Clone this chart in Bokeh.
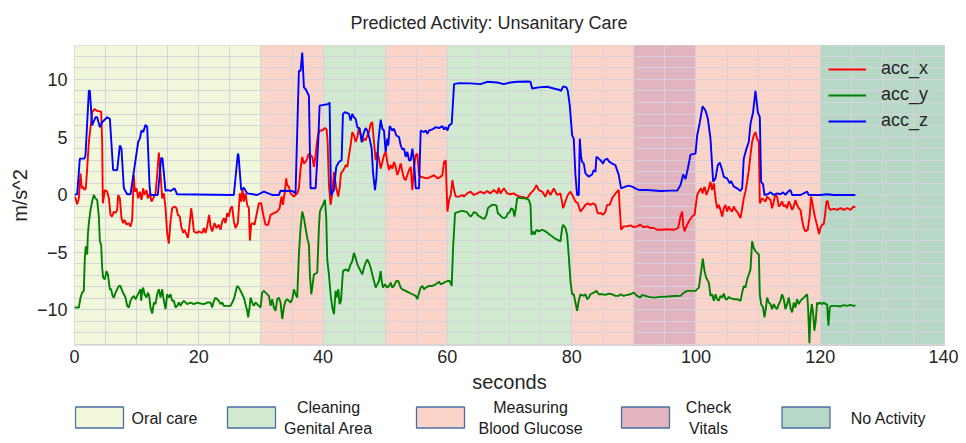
from bokeh.plotting import figure
from bokeh.models import Range1d, FixedTicker, SingleIntervalTicker, Legend, LegendItem
from bokeh.layouts import column
from bokeh.embed import file_html
from bokeh.resources import INLINE
from bokeh.core.properties import value

# ---------------- data ----------------
band_start = [0, 30, 40, 50, 60, 80, 90, 100, 120]
band_end = [30, 40, 50, 60, 80, 90, 100, 120, 140]
band_activity = ["Oral care", "Measuring Blood Glucose", "Cleaning Genital Area",
                 "Measuring Blood Glucose", "Cleaning Genital Area", "Measuring Blood Glucose",
                 "Check Vitals", "Measuring Blood Glucose", "No Activity"]

activities = ["Oral care", "Cleaning Genital Area", "Measuring Blood Glucose", "Check Vitals", "No Activity"]
activity_labels = ["Oral care", "Cleaning\nGenital Area", "Measuring\nBlood Glucose", "Check\nVitals", "No Activity"]
activity_colors = ["#f1f7da", "#d2e9d1", "#fad4c8", "#e2b4bf", "#b7d7c7"]

x_ticks = [0, 20, 40, 60, 80, 100, 120, 140]
y_ticks = [-10, -5, 0, 5, 10]

acc_x = [
    (0.00, -0.17), (0.16, -0.32), (0.43, -0.83), (0.70, -0.32), (0.97, 1.84), (1.18, 0.55), (1.39, 0.69),
    (1.61, 0.40), (1.82, 0.55), (2.04, 2.27), (2.31, 4.57), (2.58, 5.86), (2.84, 7.16), (3.22, 7.44),
    (3.54, 7.30), (3.92, 7.24), (4.29, 7.21), (4.45, 4.57), (4.56, -0.75), (4.88, 0.40), (5.26, 0.26),
    (5.53, -0.32), (5.79, -1.75), (6.06, -1.90), (6.33, -1.47), (6.60, -1.61), (6.87, -1.32), (7.03, -0.03),
    (7.30, -0.32), (7.56, -2.04), (7.83, -2.47), (8.05, -2.18), (8.37, -2.61), (8.69, -2.47), (9.01, -2.76),
    (9.28, -2.18), (9.55, 1.70), (9.71, 0.26), (9.98, 0.55), (10.25, -0.32), (10.52, 0.26), (10.78, -0.46),
    (11.05, 0.55), (11.27, -0.03), (11.59, 0.40), (11.80, -0.32), (12.12, 0.11), (12.39, -0.60),
    (12.66, -0.32), (13.04, 0.11), (13.30, 1.70), (13.57, 3.65), (13.84, 1.84), (14.11, -0.32),
    (14.38, 0.11), (14.65, -1.18), (14.91, -3.33), (15.18, -4.25), (15.45, -2.33), (15.72, -1.18),
    (16.10, -1.03), (16.42, -1.18), (16.63, -1.75), (16.95, -1.90), (17.17, -2.76), (17.49, -3.33),
    (17.70, -3.05), (18.03, -3.48), (18.24, -3.76), (18.46, -2.90), (18.78, -1.18), (18.99, -2.04),
    (19.21, -3.19), (19.64, -3.33), (20.01, -3.19), (20.55, -3.33), (20.82, -2.90), (21.08, -3.33),
    (21.35, -2.76), (21.67, -1.75), (21.89, -2.76), (22.16, -3.19), (22.53, -2.47), (22.85, -2.90),
    (23.23, -2.61), (23.50, -3.05), (23.77, -2.33), (24.04, -2.04), (24.30, -2.47), (24.57, -1.61),
    (24.84, -1.90), (25.11, -1.18), (25.38, -1.03), (25.64, -2.33), (25.91, -2.90), (26.29, -2.47),
    (26.61, 0.11), (26.82, -0.60), (27.04, 0.55), (27.25, -0.60), (27.52, 0.11), (27.79, -0.89),
    (28.06, -1.18), (28.22, -3.99), (28.43, -2.61), (28.65, -2.47), (28.97, -2.61), (29.29, -1.75),
    (29.67, -0.75), (30.04, -0.75), (30.37, -1.75), (30.74, -2.61), (31.17, -2.61), (31.55, -1.75),
    (32.08, -1.61), (32.62, -1.47), (33.00, -1.18), (33.32, -0.17), (33.53, -0.89), (33.85, 0.26),
    (34.07, 1.41), (34.23, 0.83), (34.50, 0.69), (34.77, 0.11), (35.04, -0.03), (35.30, -0.17),
    (35.57, -0.03), (35.84, 0.11), (36.11, 0.55), (36.38, 2.27), (36.65, 3.28), (36.92, 2.70),
    (37.18, 2.84), (37.45, 3.13), (37.72, 3.56), (37.99, 3.42), (38.26, 3.28), (38.53, 2.41),
    (38.80, 3.42), (38.96, 4.28), (39.17, 5.14), (39.44, 5.57), (39.87, 5.57), (40.30, 5.78),
    (40.57, 5.66), (40.73, 4.57), (40.94, 0.83), (41.21, -0.89), (41.48, 0.11), (41.75, 1.98),
    (41.91, 1.41), (42.12, 0.55), (42.45, -0.17), (42.66, 0.55), (42.88, 1.84), (43.09, 1.98),
    (43.41, 2.27), (43.63, 2.56), (43.90, 2.41), (44.17, 3.42), (44.43, 4.28), (44.70, 5.43),
    (44.97, 5.14), (45.24, 4.57), (45.51, 5.00), (45.78, 5.86), (46.04, 5.29), (46.31, 4.57),
    (46.58, 4.86), (46.85, 4.71), (47.12, 5.14), (47.39, 5.43), (47.66, 6.15), (47.92, 6.29),
    (48.19, 4.57), (48.46, 2.99), (48.73, 3.71), (49.00, 3.13), (49.27, 2.27), (49.54, 2.84),
    (49.80, 3.42), (50.07, 3.71), (50.34, 2.84), (50.61, 2.13), (50.88, 2.56), (51.15, 2.27),
    (51.41, 2.84), (51.68, 2.41), (51.95, 1.70), (52.22, 2.13), (52.49, 2.70), (52.76, 1.98),
    (53.03, 1.41), (53.29, 1.26), (53.56, 1.70), (53.83, 2.13), (54.10, 2.41), (54.37, 0.40),
    (54.64, 2.41), (54.91, 3.42), (55.17, 3.56), (55.44, 1.70), (55.71, 1.55), (56.25, 1.47),
    (56.78, 1.41), (57.32, 1.55), (57.86, 1.70), (58.40, 1.41), (58.93, 1.55), (59.20, 1.70),
    (59.47, 2.84), (59.74, 2.99), (59.90, 0.26), (60.01, -1.47), (60.28, -0.46), (60.54, -0.03),
    (60.81, 1.26), (61.08, 0.40), (61.35, -0.17), (61.89, -0.17), (62.42, -0.03), (62.66, -0.17),
    (63.19, 0.11), (63.73, 0.26), (64.26, -0.03), (64.80, 0.11), (65.34, 0.26), (65.87, 0.11),
    (66.41, 0.32), (66.94, 0.11), (67.48, 0.40), (68.02, 0.11), (68.28, 0.60), (68.55, 0.11),
    (69.09, 0.55), (69.62, 0.11), (70.16, 0.03), (70.70, 0.11), (71.23, -0.09), (71.77, -0.17),
    (72.30, -0.23), (72.84, -0.32), (73.38, 0.11), (73.91, 0.40), (74.34, 0.83), (74.72, 0.40),
    (75.25, 0.26), (75.79, -0.17), (76.16, 0.40), (76.59, -0.03), (77.13, 0.55), (77.66, -0.03),
    (78.20, 0.11), (78.63, -1.18), (79.00, -0.60), (79.38, -0.03), (79.81, 0.26), (80.24, -0.17),
    (80.61, -0.60), (80.99, -0.75), (81.42, -1.47), (81.84, -1.18), (82.22, -0.89), (82.60, -0.75),
    (83.02, -0.89), (83.45, -0.75), (83.83, -0.89), (84.20, -1.61), (84.63, -1.61), (85.06, -1.75),
    (85.44, -1.47), (85.70, -0.89), (86.13, -0.89), (86.51, -0.32), (86.88, -0.03), (87.31, 0.26),
    (87.58, 0.40), (87.74, -1.18), (87.96, -3.05), (88.38, -2.76), (88.92, -2.76), (89.46, -2.67),
    (89.99, -2.82), (90.53, -2.76), (91.06, -2.61), (91.60, -2.84), (92.14, -2.76), (92.68, -2.90),
    (93.21, -2.90), (93.74, -3.05), (94.28, -3.05), (95.40, -3.00), (96.44, -3.05), (97.14, -2.90),
    (97.52, -1.90), (97.78, -1.47), (97.95, -2.61), (98.16, -3.19), (98.59, -2.61), (99.02, -2.18),
    (99.40, -1.90), (99.77, -1.75), (100.20, -0.03), (100.47, 0.26), (100.84, 0.55), (101.06, 0.11),
    (101.38, 0.69), (101.70, -0.03), (102.08, 0.55), (102.34, 1.12), (102.61, 0.40), (102.88, 0.98),
    (103.15, -0.32), (103.42, -1.18), (103.68, -0.89), (103.95, -1.32), (104.22, -1.90), (104.49, -1.18),
    (104.76, -0.89), (105.02, -1.47), (105.29, -1.03), (105.56, -1.32), (105.83, -1.47), (106.10, -1.03),
    (106.36, -1.32), (106.63, -1.47), (106.90, -1.75), (107.17, -2.04), (107.44, -1.18), (107.70, -0.32),
    (107.97, 0.26), (108.24, 1.12), (108.51, 2.13), (108.78, 3.42), (109.04, 4.57), (109.31, 5.14),
    (109.58, 5.43), (109.85, 4.86), (110.12, 4.57), (110.28, -0.75), (110.65, -0.32), (110.92, -0.46),
    (111.19, -0.60), (111.46, -0.17), (111.72, -0.32), (111.99, -0.46), (112.26, -1.18), (112.53, -0.60),
    (112.80, 0.11), (113.06, -0.17), (113.33, -1.03), (113.60, -0.89), (113.87, -0.60), (114.14, -1.03),
    (114.40, -0.89), (114.67, -1.18), (114.94, -0.60), (115.21, -0.89), (115.48, -1.32), (115.74, -1.03),
    (116.01, -0.46), (116.28, -0.89), (116.55, -1.18), (116.82, -1.32), (117.08, -2.18), (117.35, -2.90),
    (117.62, -3.19), (118.00, -3.05), (118.32, -1.75), (118.53, -0.17), (118.80, -0.89), (119.07, -1.75),
    (119.34, -2.33), (119.60, -2.90), (119.82, -3.42), (120.03, -2.90), (120.30, -2.61), (120.57, -2.56),
    (120.78, -1.75), (121.00, -0.60), (121.21, -0.55), (121.43, -1.18), (121.64, -1.32), (122.18, -1.24),
    (122.71, -1.32), (123.25, -1.18), (123.78, -1.32), (124.32, -1.18), (124.86, -1.32), (125.39, -1.03),
    (125.66, -1.12),
]

acc_y = [
    (0.00, -9.80), (0.70, -9.80), (0.97, -8.94), (1.23, -8.51), (1.50, -8.36), (1.66, -5.49), (1.82, -4.48),
    (2.04, -5.20), (2.15, -3.48), (2.31, -2.47), (2.58, -1.32), (2.84, -0.60), (3.11, -0.03), (3.38, -0.32),
    (3.65, -0.46), (3.92, -1.90), (4.08, -4.05), (4.29, -4.34), (4.45, -6.35), (4.61, -7.21), (4.88, -7.36),
    (5.15, -6.64), (5.37, -6.93), (5.69, -8.22), (5.90, -8.22), (6.12, -8.79), (6.33, -8.94), (6.60, -8.51),
    (6.87, -8.22), (7.14, -7.93), (7.40, -7.93), (7.67, -8.36), (7.94, -8.65), (8.21, -8.94), (8.48, -9.66),
    (8.74, -9.80), (9.01, -9.22), (9.28, -8.94), (9.55, -8.79), (9.82, -9.08), (10.09, -8.79), (10.35, -8.51),
    (10.62, -8.22), (10.73, -9.22), (10.89, -8.36), (11.05, -8.07), (11.27, -8.65), (11.59, -8.94),
    (11.80, -8.51), (12.02, -8.79), (12.23, -9.80), (12.50, -10.32), (12.77, -9.37), (13.04, -9.51),
    (13.30, -8.65), (13.57, -8.22), (13.84, -8.94), (14.11, -8.22), (14.38, -9.22), (14.65, -9.94),
    (14.91, -8.65), (15.18, -8.94), (15.45, -8.65), (15.72, -9.22), (15.99, -9.22), (16.26, -9.80),
    (16.52, -9.66), (16.79, -9.37), (17.06, -9.66), (17.33, -9.37), (17.60, -9.22), (18.13, -9.51),
    (18.67, -9.37), (19.21, -9.51), (19.74, -9.37), (20.28, -9.45), (20.82, -9.51), (21.35, -9.37),
    (21.89, -9.37), (22.16, -9.80), (22.43, -9.22), (22.69, -8.94), (22.96, -9.08), (23.23, -9.22),
    (23.50, -9.51), (23.77, -9.37), (24.04, -9.66), (24.57, -9.66), (25.11, -9.66), (25.38, -9.37),
    (25.64, -9.08), (25.91, -8.51), (26.18, -7.93), (26.45, -8.07), (26.72, -8.36), (26.99, -8.65),
    (27.25, -8.94), (27.52, -9.51), (27.79, -10.09), (27.95, -10.66), (28.17, -9.80), (28.33, -8.94),
    (28.60, -9.37), (28.86, -9.66), (29.13, -9.37), (29.40, -9.51), (29.67, -9.66), (29.94, -9.80),
    (30.20, -8.51), (30.47, -8.36), (30.74, -8.51), (31.28, -8.79), (31.55, -9.66), (31.81, -9.08),
    (32.08, -9.80), (32.35, -10.09), (32.62, -9.08), (32.89, -8.94), (33.16, -9.37), (33.43, -10.80),
    (33.69, -9.80), (33.96, -9.22), (34.23, -9.08), (34.50, -9.22), (34.77, -9.37), (35.04, -9.08),
    (35.30, -8.22), (35.57, -8.65), (35.84, -8.94), (36.11, -5.20), (36.38, -2.90), (36.65, -1.47),
    (36.92, -2.04), (37.18, -2.90), (37.45, -3.76), (37.72, -4.34), (37.88, -6.93), (38.10, -8.65),
    (38.26, -8.07), (38.53, -6.93), (39.06, -6.78), (39.33, -2.90), (39.49, -1.47), (39.71, -1.18),
    (39.98, -0.89), (40.30, -0.46), (40.51, -2.04), (40.67, -5.63), (40.94, -6.93), (41.21, -8.65),
    (41.48, -9.80), (41.75, -10.37), (42.02, -8.36), (42.18, -8.94), (42.45, -8.22), (42.66, -9.51),
    (42.88, -9.22), (43.20, -6.64), (43.63, -6.49), (44.06, -6.64), (44.43, -6.06), (44.70, -5.78),
    (44.97, -5.06), (45.24, -5.49), (45.51, -6.06), (45.78, -6.35), (46.04, -6.64), (46.31, -6.93),
    (46.58, -6.35), (46.85, -5.92), (47.12, -5.63), (47.39, -5.92), (47.66, -6.35), (47.92, -6.93),
    (48.19, -7.50), (48.46, -8.07), (48.73, -7.79), (49.00, -7.50), (49.27, -6.64), (49.43, -7.50),
    (49.64, -8.07), (49.96, -7.79), (50.34, -8.07), (50.61, -7.93), (50.88, -7.64), (51.15, -8.07),
    (51.41, -7.93), (51.79, -7.50), (52.11, -7.50), (52.49, -8.07), (52.76, -8.22), (53.29, -8.36),
    (53.83, -8.51), (54.37, -8.65), (54.91, -8.79), (55.17, -9.08), (55.44, -8.51), (55.71, -8.07),
    (55.98, -7.93), (56.25, -8.22), (56.52, -8.07), (57.05, -7.93), (57.59, -7.93), (58.13, -7.79),
    (58.66, -7.56), (58.93, -7.79), (59.47, -7.64), (60.01, -7.50), (60.38, -7.50), (60.70, -7.93),
    (60.92, -4.63), (61.24, -1.61), (61.89, -1.47), (62.42, -1.41), (63.19, -1.52), (63.46, -1.75),
    (63.73, -1.90), (63.99, -1.75), (64.26, -1.52), (64.69, -1.61), (64.91, -1.81), (65.23, -1.90),
    (65.60, -2.04), (65.98, -2.10), (66.30, -1.75), (66.52, -1.18), (66.84, -1.03), (67.21, -0.89),
    (67.59, -0.89), (67.91, -0.95), (68.12, -1.61), (68.44, -1.75), (68.82, -1.98), (69.20, -2.04),
    (69.52, -1.90), (69.73, -1.61), (70.05, -1.52), (70.27, -1.18), (70.59, -1.32), (70.80, -1.90),
    (71.02, -1.18), (71.23, -0.32), (71.50, -0.26), (72.04, -0.32), (72.57, -0.32), (73.11, -0.46),
    (73.38, -0.89), (73.54, -3.48), (73.80, -3.19), (74.02, -3.48), (74.34, -3.05), (74.72, -3.19),
    (75.25, -3.05), (75.79, -3.19), (76.16, -3.33), (76.48, -3.48), (76.86, -3.62), (77.13, -3.76),
    (77.66, -3.91), (78.20, -4.05), (78.47, -2.90), (78.63, -2.61), (79.00, -2.90), (79.27, -3.48),
    (79.54, -5.34), (79.81, -7.50), (80.08, -8.65), (80.34, -8.65), (80.61, -9.37), (80.88, -10.09),
    (81.15, -9.22), (81.42, -8.65), (81.95, -8.79), (82.22, -8.65), (82.49, -9.08), (82.76, -8.94),
    (83.02, -8.65), (83.56, -8.51), (83.99, -8.36), (84.36, -8.65), (84.90, -8.65), (85.44, -8.71),
    (85.97, -8.59), (86.51, -8.65), (87.04, -8.79), (87.58, -8.79), (87.85, -8.65), (88.38, -8.79),
    (88.92, -8.71), (89.46, -8.65), (89.99, -8.51), (90.53, -8.79), (91.06, -8.94), (91.33, -8.71),
    (91.87, -8.79), (92.40, -8.88), (93.21, -8.94), (94.28, -8.88), (95.50, -8.85), (96.50, -8.80),
    (97.52, -8.79), (98.06, -8.51), (98.59, -8.36), (99.93, -8.36), (100.47, -8.07), (100.84, -6.64),
    (101.11, -5.55), (101.38, -6.64), (101.65, -7.21), (102.08, -7.64), (102.34, -8.79), (102.61, -8.65),
    (102.88, -9.22), (103.15, -8.65), (103.42, -9.08), (103.68, -9.22), (103.95, -8.79), (104.22, -8.94),
    (104.49, -8.59), (104.76, -9.08), (105.02, -9.08), (105.29, -8.88), (105.56, -8.99), (106.10, -9.08),
    (106.63, -9.08), (107.17, -9.22), (107.44, -8.51), (107.70, -7.93), (107.97, -8.07), (108.24, -7.36),
    (108.51, -6.93), (108.78, -6.49), (109.04, -4.05), (109.31, -4.63), (109.58, -4.91), (109.85, -5.06),
    (110.12, -5.20), (110.28, -8.65), (110.49, -9.51), (110.81, -9.80), (111.03, -10.66), (111.24, -9.94),
    (111.46, -8.94), (111.72, -9.37), (111.99, -9.51), (112.26, -9.94), (112.53, -9.51), (112.80, -9.80),
    (113.06, -9.94), (113.33, -9.51), (113.60, -9.22), (113.87, -8.65), (114.14, -9.08), (114.40, -9.94),
    (114.67, -9.51), (114.94, -8.94), (115.21, -9.80), (115.48, -10.23), (115.74, -9.37), (116.01, -9.80),
    (116.28, -9.08), (116.55, -9.51), (116.82, -9.22), (117.08, -9.08), (117.35, -8.94), (117.62, -8.79),
    (117.89, -8.65), (118.05, -9.80), (118.26, -12.90), (118.42, -10.66), (118.64, -9.51), (118.85, -10.23),
    (119.07, -11.81), (119.28, -10.95), (119.50, -9.37), (119.71, -9.51), (119.92, -9.37), (120.30, -9.51),
    (120.57, -9.37), (120.84, -9.51), (121.10, -9.51), (121.32, -11.38), (121.53, -9.80), (121.75, -9.66),
    (122.18, -9.66), (122.71, -9.66), (123.25, -9.71), (123.78, -9.60), (124.32, -9.66), (124.86, -9.57),
    (125.39, -9.66), (125.66, -9.63),
]

acc_z = [
    (0.00, 0.00), (0.43, 0.03), (0.86, 3.13), (1.61, 3.13), (1.77, 3.42), (2.31, 9.02), (2.47, 9.02),
    (2.84, 6.01), (3.38, 6.72), (3.65, 6.72), (4.08, 5.86), (4.45, 6.29), (5.26, 6.72), (5.69, 6.58),
    (6.22, 2.13), (6.87, 2.13), (7.30, 4.28), (7.56, 3.99), (7.94, 0.55), (8.48, 0.03), (9.01, 0.03),
    (10.25, 4.57), (10.52, 4.86), (10.78, 5.57), (11.05, 5.43), (11.43, 6.06), (11.70, 5.86), (12.07, 0.83),
    (12.23, -0.03), (13.41, -0.03), (13.95, 3.19), (14.16, 3.13), (14.65, 0.32), (15.02, 0.40), (15.45, 0.32),
    (16.10, 0.55), (16.52, 0.03), (25.64, -0.03), (26.29, 3.56), (26.40, 3.42), (26.82, 0.40), (27.25, 0.60),
    (27.79, 0.11), (29.40, -0.03), (30.47, 0.26), (31.81, -0.03), (32.89, -0.03), (33.16, 0.34),
    (35.04, 0.32), (35.57, 0.11), (36.11, 10.75), (36.38, 10.75), (36.65, 12.33), (36.92, 9.31),
    (37.18, 9.17), (37.72, 8.59), (37.99, 0.55), (38.80, 0.55), (39.22, 4.57), (39.44, 7.73), (40.94, 7.87),
    (41.05, 8.02), (41.27, -0.03), (41.75, 0.40), (42.12, 2.41), (42.55, 2.84), (42.98, 2.99), (43.20, 7.01),
    (43.52, 7.16), (44.17, 7.01), (44.43, 6.44), (44.70, 7.01), (44.97, 6.72), (45.24, 6.58), (45.51, 5.86),
    (45.88, 5.72), (46.21, 4.57), (46.58, 5.43), (46.85, 5.78), (47.12, 5.57), (47.49, 4.86), (47.82, 3.99),
    (48.03, 1.98), (48.35, 0.40), (48.57, 1.41), (48.89, 4.57), (49.27, 6.52), (49.54, 5.72), (49.80, 5.57),
    (50.07, 3.71), (50.34, 4.86), (50.50, 4.28), (50.72, 5.95), (51.15, 5.57), (51.41, 5.72), (51.79, 5.14),
    (52.22, 5.00), (52.49, 4.28), (52.76, 3.94), (53.03, 3.99), (53.29, 3.28), (53.56, 3.71), (53.83, 2.99),
    (54.10, 2.99), (54.37, 3.99), (54.64, 2.84), (54.91, 0.55), (55.44, 0.55), (55.71, 5.57), (56.25, 5.43),
    (56.52, 5.57), (56.78, 5.29), (57.05, 5.57), (57.59, 5.66), (58.13, 5.86), (58.66, 5.78), (59.20, 5.95),
    (59.47, 5.66), (59.74, 5.86), (60.01, 5.57), (60.28, 6.01), (60.70, 6.15), (61.08, 9.60), (61.89, 9.68),
    (63.73, 9.66), (65.34, 9.60), (66.41, 9.80), (68.02, 9.74), (69.09, 9.60), (70.16, 9.74), (71.23, 9.80),
    (72.84, 9.83), (73.38, 9.80), (73.64, 9.22), (74.72, 9.31), (76.06, 9.37), (77.13, 9.22), (77.93, 9.11),
    (78.31, 9.02), (78.63, 9.40), (79.16, 9.31), (79.38, 9.02), (79.70, 7.73), (80.08, 5.14), (80.34, 4.86),
    (80.61, 1.70), (80.88, -0.03), (81.15, -0.03), (81.31, 4.86), (81.52, 3.28), (81.68, 2.84), (81.95, 2.70),
    (82.22, 1.84), (82.76, 1.55), (83.29, 1.75), (83.56, 2.13), (83.83, 1.98), (83.99, 3.28), (84.36, 3.13),
    (84.63, 2.99), (85.06, 2.70), (85.28, 2.99), (85.70, 3.13), (86.08, 2.84), (86.51, 2.70), (87.04, 2.56),
    (87.58, 1.70), (87.96, 0.55), (88.65, 0.69), (89.19, 0.78), (89.72, 0.69), (90.26, 0.55), (90.80, 0.40),
    (92.14, 0.40), (94.28, 0.32), (96.00, 0.35), (97.00, 0.35), (97.52, 0.83), (97.95, 1.75), (98.32, 1.35),
    (98.70, 2.27), (99.13, 3.48), (99.93, 3.56), (100.20, 5.14), (100.63, 6.29), (101.06, 7.67),
    (101.54, 7.30), (101.92, 6.58), (102.34, 4.86), (102.77, 1.12), (103.15, 1.41), (103.52, 2.56),
    (103.84, 2.79), (104.22, 2.13), (104.49, 1.55), (105.02, 1.41), (105.45, 0.98), (105.67, 1.18),
    (106.10, 0.69), (106.63, 0.55), (107.17, 0.32), (107.44, 0.55), (107.70, 3.13), (108.13, 3.99),
    (108.51, 4.57), (108.78, 6.15), (109.20, 7.16), (109.58, 9.02), (109.96, 7.16), (110.28, 6.72),
    (110.49, 1.12), (110.81, 0.89), (111.03, -0.03), (111.56, 0.03), (111.99, 0.20), (112.53, -0.03),
    (113.06, 0.11), (113.60, 0.03), (114.03, 0.20), (114.40, -0.03), (114.94, 0.32), (115.21, 0.40),
    (115.48, -0.03), (116.82, -0.03), (117.89, 0.26), (118.16, -0.03), (120.03, -0.03), (121.10, 0.03),
    (122.18, -0.03), (125.66, -0.03),
]

# ---------------- styling helpers ----------------
FONT_NAME = "Liberation Sans"
FONT = value(FONT_NAME)
TXT = "#262626"
color_of = dict(zip(activities, activity_colors))

p = figure(width=958, height=398, x_range=Range1d(0, 140), y_range=Range1d(-13.1, 12.95),
           output_backend="svg", toolbar_location=None,
           min_border_left=74, min_border_right=14, min_border_top=43, min_border_bottom=53,
           background_fill_color="white", border_fill_color="white")

# activity bands (drawn under the grid)
p.quad(left=band_start, right=band_end, bottom=-20, top=20,
       fill_color=[color_of[a] for a in band_activity], line_color=None, level="image")

series = [("acc_x", acc_x, "#ff0000"), ("acc_y", acc_y, "#008000"), ("acc_z", acc_z, "#0000ff")]
items = []
for name, pts, col in series:
    t = [a for a, _ in pts]
    v = [b for _, b in pts]
    r = p.line(t, v, line_color=col, line_width=1.9)
    items.append(LegendItem(label=name, renderers=[r]))

legend = Legend(items=items, location="top_right", background_fill_alpha=0, border_line_alpha=0,
                label_text_font=FONT_NAME, label_text_font_size="18px", label_text_color=TXT,
                glyph_width=38, label_standoff=15, label_height=20, label_width=50, glyph_height=20,
                spacing=5, margin=9, padding=4)
p.add_layout(legend)

# grid
p.xgrid.ticker = SingleIntervalTicker(interval=5)
p.ygrid.ticker = SingleIntervalTicker(interval=1)
p.grid.grid_line_color = "#d6d3da"
p.grid.grid_line_width = 1
p.outline_line_color = "#d3d3d3"

# axes
p.xaxis.ticker = FixedTicker(ticks=x_ticks)
p.yaxis.ticker = FixedTicker(ticks=y_ticks)
p.yaxis.major_label_overrides = {t: ("\u2212" + str(abs(t)) if t < 0 else str(t)) for t in y_ticks}
for ax in (p.xaxis[0], p.yaxis[0]):
    ax.axis_line_color = None
    ax.major_tick_line_color = None
    ax.minor_tick_line_color = None
    ax.major_tick_out = 0
    ax.major_tick_in = 0
    ax.minor_tick_out = 0
    ax.minor_tick_in = 0
    ax.major_label_text_font = FONT_NAME
    ax.major_label_text_font_size = "18px"
    ax.major_label_text_color = TXT
    ax.axis_label_text_font = FONT_NAME
    ax.axis_label_text_font_size = "20px"
    ax.axis_label_text_font_style = "normal"
    ax.axis_label_text_color = TXT
p.xaxis.axis_label = "seconds"
p.yaxis.axis_label = "m/s^2"
p.xaxis.major_label_standoff = 4
p.xaxis.axis_label_standoff = 5
p.yaxis.major_label_standoff = 7
p.yaxis.axis_label_standoff = 3

p.title.text = "Predicted Activity: Unsanitary Care"
p.title.align = "left"
p.title.offset = 276
p.title.vertical_align = "middle"
p.title.text_font = FONT_NAME
p.title.text_font_size = "18px"
p.title.text_font_style = "normal"
p.title.text_color = TXT
p.title.standoff = 23

# ---------------- bottom legend (page coordinates; its frame aligns with the chart frame) ----------------
lg = figure(width=958, height=42, x_range=Range1d(74, 944), y_range=Range1d(440, 398),
            output_backend="svg", toolbar_location=None, min_border=0,
            x_axis_type=None, y_axis_type=None, outline_line_color=None)
lg.grid.visible = False
box_cx = [99, 251, 440, 645, 805.5]
text_cx = [164, 328, 530, 708, 888]
box_w, box_h, row_y = 48, 21, 417
lg.quad(left=[c - box_w / 2 for c in box_cx], right=[c + box_w / 2 for c in box_cx],
        top=row_y - box_h / 2, bottom=row_y + box_h / 2,
        fill_color=activity_colors, line_color="#4a6fa5", line_width=1.3)
tx, ty, tt = [], [], []
for cx, lab in zip(text_cx, activity_labels):
    lines = lab.split("\n")
    if len(lines) == 1:
        tx.append(cx); ty.append(row_y + 1); tt.append(lines[0])
    else:
        tx += [cx, cx]; ty += [row_y - 10, row_y + 11]; tt += lines
lg.text(x=tx, y=ty, text=tt, text_align="center", text_baseline="middle",
        text_font=FONT, text_font_size="16px", text_color="#1a1a1a")

layout = column(p, lg, spacing=0)
open("out.html", "w").write(file_html(layout, INLINE))
